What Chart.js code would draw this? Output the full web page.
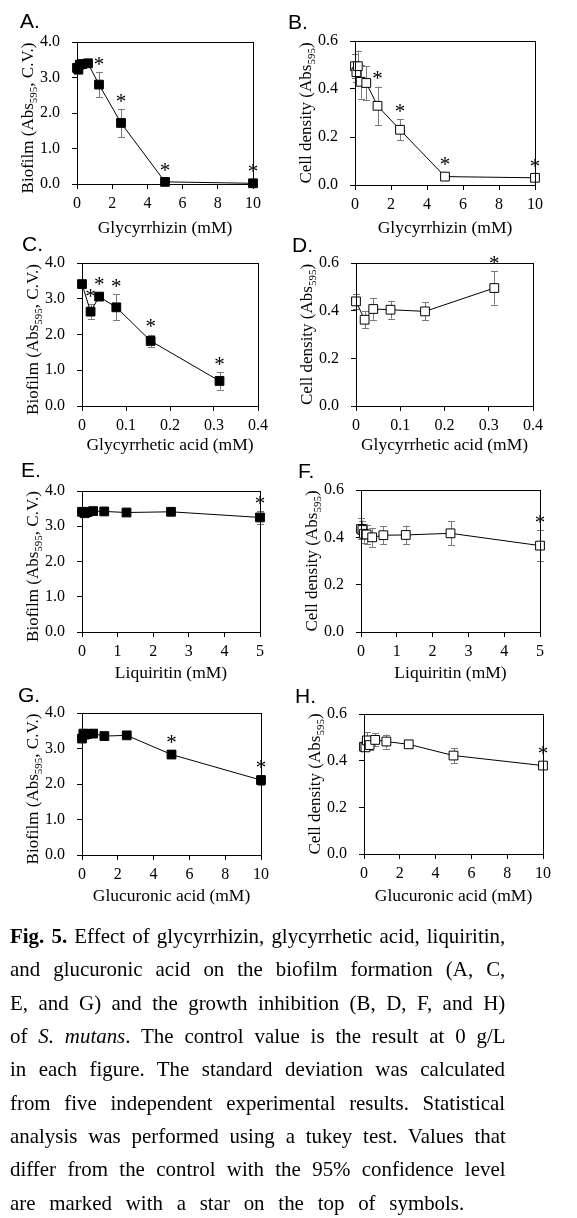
<!DOCTYPE html>
<html>
<head>
<meta charset="utf-8">
<script src="https://cdn.jsdelivr.net/npm/chart.js@4.4.1/dist/chart.umd.min.js"></script>
<style>
body { margin:0; background:#fff; width:577px; height:1218px; position:relative; overflow:hidden; }
canvas.panel { position:absolute; }
.ln { position:absolute; left:9.5px; white-space:pre; font-family:"Liberation Serif"; font-size:22px; line-height:33px; color:#000; transform-origin:0 0; }
</style>
</head>
<body>
<script>
// concentrations (mM)
const glycyrrhizinConc = [0, 0.078, 0.156, 0.3125, 0.625, 1.25, 2.5, 5, 10];
const glycyrrheticConc = [0, 0.0195, 0.039, 0.078, 0.156, 0.3125];
const liquiritinConc = [0, 0.039, 0.078, 0.156, 0.3125, 0.625, 1.25, 2.5, 5];
const glucuronicConc = [0, 0.078, 0.156, 0.3125, 0.625, 1.25, 2.5, 5, 10];

// A / B  glycyrrhizin
const biofilmGlycyrrhizin   = [3.27, 3.22, 3.36, 3.38, 3.40, 2.80, 1.72, 0.06, 0.02];
const biofilmGlycyrrhizinSd = [0.08, 0.08, 0.05, 0.05, 0.04, 0.36, 0.40, 0.03, 0.02];
const starsA = [0, 0, 0, 0, 0, 1, 1, 1, 1];
const cellGlycyrrhizin   = [0.495, 0.47, 0.495, 0.43, 0.425, 0.33, 0.23, 0.035, 0.03];
const cellGlycyrrhizinSd = [0.05, 0.04, 0.065, 0.07, 0.07, 0.08, 0.043, 0.005, 0.005];
const starsB = [0, 0, 0, 0, 0, 1, 1, 1, 1];

// C / D  glycyrrhetic acid
const biofilmGlycyrrhetic   = [3.41, 2.64, 3.06, 2.76, 1.82, 0.70];
const biofilmGlycyrrheticSd = [0.05, 0.20, 0.08, 0.36, 0.18, 0.24];
const starsC = [0, 1, 1, 1, 1, 1];
const cellGlycyrrhetic   = [0.439, 0.362, 0.407, 0.404, 0.397, 0.495];
const cellGlycyrrheticSd = [0.03, 0.035, 0.045, 0.038, 0.038, 0.07];
const starsD = [0, 0, 0, 0, 0, 1];

// E / F  liquiritin
const biofilmLiquiritin   = [3.41, 3.40, 3.37, 3.40, 3.43, 3.42, 3.39, 3.41, 3.25];
const biofilmLiquiritinSd = [0.05, 0.05, 0.05, 0.05, 0.04, 0.04, 0.04, 0.04, 0.19];
const starsE = [0, 0, 0, 0, 0, 0, 0, 0, 1];
const cellLiquiritin   = [0.436, 0.431, 0.415, 0.412, 0.400, 0.409, 0.410, 0.417, 0.365];
const cellLiquiritinSd = [0.045, 0.04, 0.04, 0.04, 0.04, 0.038, 0.04, 0.05, 0.065];
const starsF = [0, 0, 0, 0, 0, 0, 0, 0, 1];

// G / H  glucuronic acid
const biofilmGlucuronic   = [3.28, 3.42, 3.39, 3.41, 3.42, 3.35, 3.37, 2.83, 2.11];
const biofilmGlucuronicSd = [0.05, 0.05, 0.05, 0.05, 0.05, 0.05, 0.05, 0.06, 0.15];
const starsG = [0, 0, 0, 0, 0, 0, 0, 1, 1];
const cellGlucuronic   = [0.460, 0.457, 0.487, 0.467, 0.489, 0.482, 0.470, 0.422, 0.379];
const cellGlucuronicSd = [0.01, 0.01, 0.035, 0.02, 0.028, 0.03, 0.01, 0.033, 0.01];
const starsH = [0, 0, 0, 0, 0, 0, 0, 0, 1];

// tick labels
const biofilmTicks = [0, 1, 2, 3, 4];
const cellTicks = [0, 0.2, 0.4, 0.6];
const xTicks10 = [0, 2, 4, 6, 8, 10];
const xTicks04 = [0, 0.1, 0.2, 0.3, 0.4];
const xTicks5 = [0, 1, 2, 3, 4, 5];

const captionLines = [
  '<b>Fig. 5.</b> Effect of glycyrrhizin, glycyrrhetic acid, liquiritin,',
  'and glucuronic acid on the biofilm formation (A, C,',
  'E, and G) and the growth inhibition (B, D, F, and H)',
  'of <i>S. mutans</i>. The control value is the result at 0 g/L',
  'in each figure. The standard deviation was calculated',
  'from five independent experimental results. Statistical',
  'analysis was performed using a tukey test. Values that',
  'differ from the control with the 95% confidence level',
  'are marked with a star on the top of symbols.'
];

const SERIF = '"Liberation Serif", "Times New Roman", serif';
const BIOFILM_TITLE = ['Biofilm (Abs', '595', ', C.V.)'];
const CELL_TITLE = ['Cell density (Abs', '595', ')'];
const CH = 250; // canvas height (canvases overlap, transparent)

const panels = [
  {letter:'A.', left:0,   top:0,   area:[77,42,253,184], lpos:[20,28], xTitleY:233, conc:glycyrrhizinConc, vals:biofilmGlycyrrhizin, sd:biofilmGlycyrrhizinSd, stars:starsA, xTicks:xTicks10, yTicks:biofilmTicks, xTitle:'Glycyrrhizin (mM)', filled:true},
  {letter:'B.', left:288, top:0,   area:[67,41,247,185], lpos:[0,29],  xTitleY:233, conc:glycyrrhizinConc, vals:cellGlycyrrhizin, sd:cellGlycyrrhizinSd, stars:starsB, xTicks:xTicks10, yTicks:cellTicks, xTitle:'Glycyrrhizin (mM)', filled:false},
  {letter:'C.', left:0,   top:225, area:[82,38,258,181], lpos:[22,26], xTitleY:225, conc:glycyrrheticConc, vals:biofilmGlycyrrhetic, sd:biofilmGlycyrrheticSd, stars:starsC, xTicks:xTicks04, yTicks:biofilmTicks, xTitle:'Glycyrrhetic acid (mM)', filled:true},
  {letter:'D.', left:288, top:225, area:[68,38,245,181], lpos:[4,27],  xTitleY:225, conc:glycyrrheticConc, vals:cellGlycyrrhetic, sd:cellGlycyrrheticSd, stars:starsD, xTicks:xTicks04, yTicks:cellTicks, xTitle:'Glycyrrhetic acid (mM)', filled:false},
  {letter:'E.', left:0,   top:450, area:[82,41,260,182], lpos:[21,27], xTitleY:228, conc:liquiritinConc, vals:biofilmLiquiritin, sd:biofilmLiquiritinSd, stars:starsE, xTicks:xTicks5, yTicks:biofilmTicks, xTitle:'Liquiritin (mM)', filled:true},
  {letter:'F.', left:288, top:450, area:[73,40,252,182], lpos:[10,28], xTitleY:228, conc:liquiritinConc, vals:cellLiquiritin, sd:cellLiquiritinSd, stars:starsF, xTicks:xTicks5, yTicks:cellTicks, xTitle:'Liquiritin (mM)', filled:false},
  {letter:'G.', left:0,   top:675, area:[82,38,261,180], lpos:[18,27], xTitleY:226, conc:glucuronicConc, vals:biofilmGlucuronic, sd:biofilmGlucuronicSd, stars:starsG, xTicks:xTicks10, yTicks:biofilmTicks, xTitle:'Glucuronic acid (mM)', filled:true},
  {letter:'H.', left:288, top:675, area:[76,39,255,179], lpos:[7,28],  xTitleY:226, conc:glucuronicConc, vals:cellGlucuronic, sd:cellGlucuronicSd, stars:starsH, xTicks:xTicks10, yTicks:cellTicks, xTitle:'Glucuronic acid (mM)', filled:false}
];

function drawYTitle(ctx, parts, x, cy, fs) {
  const f = fs + 'px ' + SERIF, fsub = (fs * 0.65) + 'px ' + SERIF;
  ctx.save();
  ctx.translate(x, cy);
  ctx.rotate(-Math.PI / 2);
  ctx.font = f;
  const w1 = ctx.measureText(parts[0]).width, w3 = ctx.measureText(parts[2]).width;
  ctx.font = fsub;
  const w2 = ctx.measureText(parts[1]).width;
  let sx = -(w1 + w2 + w3) / 2;
  ctx.fillStyle = '#000';
  ctx.textBaseline = 'alphabetic';
  ctx.textAlign = 'left';
  ctx.font = f; ctx.fillText(parts[0], sx, 0); sx += w1;
  ctx.font = fsub; ctx.fillText(parts[1], sx, fs * 0.22); sx += w2;
  ctx.font = f; ctx.fillText(parts[2], sx, 0);
  ctx.restore();
}

const decor = {
  id: 'decor',
  beforeDatasetsDraw(chart) {
    const p = chart.canvas.panel, ctx = chart.ctx;
    const xs = chart.scales.x, ys = chart.scales.y;
    ctx.save();
    ctx.strokeStyle = '#7a7a7a';
    ctx.lineWidth = 1;
    p.sd.forEach((e, i) => {
      const x = Math.round(xs.getPixelForValue(p.conc[i])) + 0.5;
      const y1 = ys.getPixelForValue(p.vals[i] - e), y2 = ys.getPixelForValue(p.vals[i] + e);
      ctx.beginPath();
      ctx.moveTo(x, y1); ctx.lineTo(x, y2);
      ctx.moveTo(x - 3.5, Math.round(y1) + 0.5); ctx.lineTo(x + 3.5, Math.round(y1) + 0.5);
      ctx.moveTo(x - 3.5, Math.round(y2) + 0.5); ctx.lineTo(x + 3.5, Math.round(y2) + 0.5);
      ctx.stroke();
    });
    ctx.restore();
  },
  afterDraw(chart) {
    const p = chart.canvas.panel, ctx = chart.ctx, a = chart.chartArea;
    const xs = chart.scales.x, ys = chart.scales.y;
    ctx.save();
    // box
    ctx.strokeStyle = '#000';
    ctx.lineWidth = 1;
    ctx.strokeRect(Math.round(a.left) + 0.5, Math.round(a.top) + 0.5, Math.round(a.right - a.left), Math.round(a.bottom - a.top));
    // stars
    ctx.fillStyle = '#000';
    ctx.font = '21px ' + SERIF;
    ctx.textAlign = 'center';
    ctx.textBaseline = 'alphabetic';
    p.stars.forEach((s, i) => {
      if (!s) return;
      const x = xs.getPixelForValue(p.conc[i]);
      const top = Math.min(ys.getPixelForValue(p.vals[i] + p.sd[i]), ys.getPixelForValue(p.vals[i]) - 4);
      const cy = top - 11;
      ctx.fillText('*', x, cy + 0.47 * 21);
    });
    // x title
    ctx.font = '17.5px ' + SERIF;
    ctx.fillText(p.xTitle, (a.left + a.right) / 2, p.xTitleY);
    // panel letter
    ctx.textAlign = 'left';
    ctx.font = '21px "Liberation Sans", Arial, sans-serif';
    ctx.fillText(p.letter, p.lpos[0], p.lpos[1]);
    ctx.restore();
    // y title
    const mid = (a.top + a.bottom) / 2;
    if (p.filled) drawYTitle(ctx, BIOFILM_TITLE, a.left - 44, mid + 5, 17);
    else drawYTitle(ctx, CELL_TITLE, a.left - 44, mid, 17);
  }
};

const fmtX = v => String(+v.toFixed(2));

panels.forEach(p => {
  const cv = document.createElement('canvas');
  cv.className = 'panel';
  cv.width = 288; cv.height = CH;
  cv.style.left = p.left + 'px';
  cv.style.top = p.top + 'px';
  cv.panel = p;
  document.body.appendChild(cv);
  const a = p.area;
  const tickFont = {family: SERIF, size: 16};
  new Chart(cv.getContext('2d'), {
    type: 'line',
    data: {
      datasets: [{
        data: p.conc.map((x, i) => ({x: x, y: p.vals[i]})),
        borderColor: '#000',
        borderWidth: 1,
        pointStyle: 'rect',
        pointRadius: 6.2,
        pointHoverRadius: 6.2,
        pointBackgroundColor: p.filled ? '#000' : '#fff',
        pointBorderColor: '#000',
        pointBorderWidth: 1,
        tension: 0,
        clip: false
      }]
    },
    options: {
      responsive: false,
      animation: false,
      devicePixelRatio: 1,
      events: [],
      layout: {autoPadding: false, padding: {left: 0, top: a[1], right: 288 - a[2], bottom: 0}},
      plugins: {legend: {display: false}, tooltip: {enabled: false}},
      scales: {
        x: {
          type: 'linear',
          min: p.xTicks[0], max: p.xTicks[p.xTicks.length - 1],
          afterBuildTicks: s => { s.ticks = p.xTicks.map(v => ({value: v})); },
          afterFit: s => { s.height = CH - a[3]; },
          ticks: {font: tickFont, color: '#000', padding: 5, maxRotation: 0, autoSkip: false, callback: v => fmtX(v)},
          grid: {drawOnChartArea: false, tickLength: 5, color: '#000'},
          border: {color: '#000', width: 1}
        },
        y: {
          type: 'linear',
          min: p.yTicks[0], max: p.yTicks[p.yTicks.length - 1],
          afterBuildTicks: s => { s.ticks = p.yTicks.map(v => ({value: v})); },
          afterFit: s => { s.width = a[0]; },
          ticks: {font: tickFont, color: '#000', padding: 12, autoSkip: false, callback: v => v.toFixed(1)},
          grid: {drawOnChartArea: false, tickLength: 5, color: '#000'},
          border: {color: '#000', width: 1}
        }
      }
    },
    plugins: [decor]
  });
});

// caption, each line stretched to the column width like the printed text
const capScale = 0.95, capWidth = 495.5;
captionLines.forEach((html, i) => {
  const d = document.createElement('div');
  d.className = 'ln';
  d.innerHTML = html;
  d.style.top = (943 + i * 33.33 - 23.9) + 'px';
  d.style.transform = 'scaleX(' + capScale + ')';
  document.body.appendChild(d);
  const spaces = (d.textContent.match(/ /g) || []).length;
  if (i < captionLines.length - 1) {
    const nat = d.offsetWidth;
    d.style.wordSpacing = ((capWidth / capScale - nat) / spaces) + 'px';
  } else {
    d.style.wordSpacing = '9px';
  }
});
</script>
</body>
</html>
